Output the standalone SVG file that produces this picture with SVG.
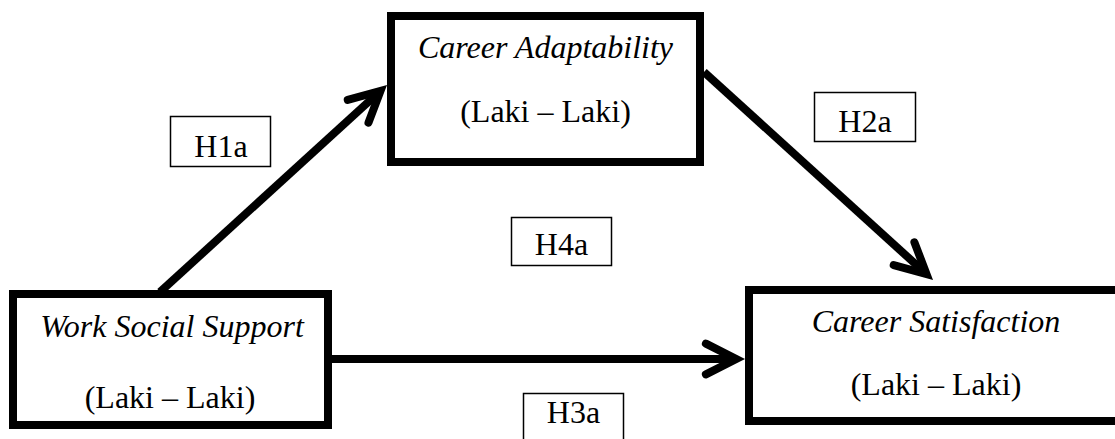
<svg xmlns="http://www.w3.org/2000/svg" width="1115" height="439" viewBox="0 0 1115 439">
  <style>
    .node { fill: #fff; stroke: #000; stroke-width: 8; }
    .tag { fill: #fff; stroke: #000; stroke-width: 1.5; }
    .title { font-style: italic; }
    .edge { fill: none; stroke: #000; stroke-width: 8; marker-end: url(#head); }
  </style>
  <defs>
    <marker id="head" markerUnits="userSpaceOnUse" markerWidth="60" markerHeight="60" refX="0" refY="0" orient="auto" overflow="visible">
      <path d="M -30.3,-15.4 L 0,0 L -30.3,15.4" fill="none" stroke="#000" stroke-width="8" stroke-linecap="round" stroke-linejoin="miter" stroke-miterlimit="4"/>
    </marker>
  </defs>

  <g id="connectors">
    <line class="edge" x1="160" y1="292" x2="380.5" y2="90.9"/>
    <line class="edge" x1="704" y1="72" x2="926.5" y2="274.1"/>
    <line class="edge" x1="332" y1="359" x2="736.2" y2="359"/>
  </g>

  <g font-family="'Liberation Serif', Tinos, 'Times New Roman', 'DejaVu Serif', serif" font-size="32" fill="#000" text-anchor="middle">
    <g id="career-adaptability">
      <rect class="node" x="391" y="16" width="309" height="146"/>
      <text class="title" x="545.5" y="58">Career Adaptability</text>
      <text x="545.5" y="122">(Laki – Laki)</text>
    </g>

    <g id="work-social-support">
      <rect class="node" x="13" y="294" width="315" height="131"/>
      <text class="title" x="172" y="337">Work Social Support</text>
      <text x="170" y="408">(Laki – Laki)</text>
    </g>

    <g id="career-satisfaction">
      <rect class="node" x="749" y="290" width="390" height="131"/>
      <text class="title" x="936" y="332">Career Satisfaction</text>
      <text x="936" y="395">(Laki – Laki)</text>
    </g>

    <g id="h1a">
      <rect class="tag" x="170.5" y="116.5" width="100" height="50"/>
      <text x="221" y="157">H1a</text>
    </g>
    <g id="h2a">
      <rect class="tag" x="814.5" y="92.5" width="101" height="49"/>
      <text x="865" y="132">H2a</text>
    </g>
    <g id="h4a">
      <rect class="tag" x="511.5" y="217.5" width="100" height="48"/>
      <text x="561.5" y="255">H4a</text>
    </g>
    <g id="h3a">
      <rect class="tag" x="523.5" y="393.5" width="100" height="50"/>
      <text x="573.5" y="423">H3a</text>
    </g>
  </g>
</svg>
